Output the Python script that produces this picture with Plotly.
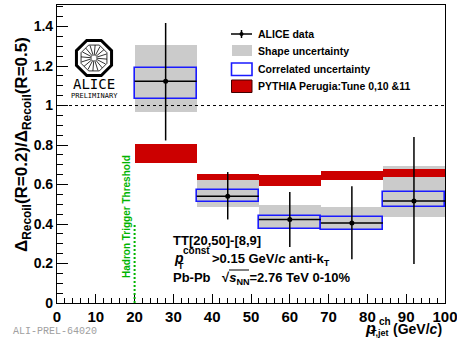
import math
import plotly.graph_objects as go

# ---------------- data ----------------
bin_centers = [28, 44, 60, 76, 92]
bin_width = 16
ratio = [1.123, 0.540, 0.423, 0.405, 0.517]
stat_hi = [1.418, 0.663, 0.562, 0.591, 0.840]
stat_lo = [0.823, 0.423, 0.284, 0.222, 0.197]
shape_hi = [1.308, 0.625, 0.495, 0.487, 0.692]
shape_lo = [0.966, 0.487, 0.377, 0.372, 0.433]
corr_hi = [1.190, 0.571, 0.441, 0.436, 0.562]
corr_lo = [1.032, 0.512, 0.377, 0.372, 0.484]
pythia_hi = [0.807, 0.655, 0.650, 0.668, 0.680]
pythia_lo = [0.709, 0.625, 0.593, 0.625, 0.638]

x_ticks = [0, 10, 20, 30, 40, 50, 60, 70, 80, 90, 100]
y_ticks = [0, 0.2, 0.4, 0.6, 0.8, 1.0, 1.2, 1.4]
y_tick_text = ["0", "0.2", "0.4", "0.6", "0.8", "1", "1.2", "1.4"]
trigger_threshold = 20
legend_labels = ["ALICE data", "Shape uncertainty", "Correlated uncertainty",
                 "PYTHIA Perugia:Tune 0,10 &11"]

W, H = 457, 338
L, R, T, B = 57, 445, 5, 303
FONT = "Liberation Sans, Arial, sans-serif"


def px(x):
    return (x - L) / (R - L)


def py(y):
    return (B - y) / (B - T)


RED = "#cc0000"
GRAY = "#cbcbcb"
BLUE = "#1a1aff"
GREEN = "#00b400"

fig = go.Figure()

# shape uncertainty (gray)
fig.add_trace(go.Bar(
    x=bin_centers, y=[h - l for h, l in zip(shape_hi, shape_lo)], base=shape_lo,
    width=bin_width, marker=dict(color=GRAY, line=dict(width=0)),
    showlegend=False, hoverinfo="skip"))
# pythia (red)
fig.add_trace(go.Bar(
    x=bin_centers, y=[h - l for h, l in zip(pythia_hi, pythia_lo)], base=pythia_lo,
    width=bin_width, marker=dict(color=RED, line=dict(width=0)),
    showlegend=False, hoverinfo="skip"))
# correlated uncertainty (blue open box)
fig.add_trace(go.Bar(
    x=bin_centers, y=[h - l for h, l in zip(corr_hi, corr_lo)], base=corr_lo,
    width=bin_width, marker=dict(color="rgba(0,0,0,0)", line=dict(width=1.6, color=BLUE)),
    showlegend=False, hoverinfo="skip"))
# data points with stat errors
fig.add_trace(go.Scatter(
    x=bin_centers, y=ratio, mode="markers",
    marker=dict(symbol="circle", size=5, color="black"),
    error_y=dict(type="data", symmetric=False,
                 array=[h - r for h, r in zip(stat_hi, ratio)],
                 arrayminus=[r - l for r, l in zip(ratio, stat_lo)],
                 color="black", thickness=1.5, width=0),
    error_x=dict(type="data", array=[bin_width / 2] * len(bin_centers),
                 color="black", thickness=1.5, width=0),
    showlegend=False, hoverinfo="skip"))

shapes = []
# dashed line at 1
shapes.append(dict(type="line", xref="x", yref="y", x0=0, x1=100, y0=1, y1=1,
                   line=dict(color="black", width=1, dash="3px,3px")))
# trigger threshold
shapes.append(dict(type="line", xref="x", yref="y", x0=trigger_threshold, x1=trigger_threshold,
                   y0=0, y1=0.405, line=dict(color=GREEN, width=2, dash="2px,2px")))

# legend symbols
ly = [34, 51, 69, 86]
shapes.append(dict(type="line", xref="paper", yref="paper", x0=px(231), x1=px(252),
                   y0=py(ly[0]), y1=py(ly[0]), line=dict(color="black", width=1.5)))
shapes.append(dict(type="line", xref="paper", yref="paper", x0=px(241.5), x1=px(241.5),
                   y0=py(ly[0] - 4), y1=py(ly[0] + 4), line=dict(color="black", width=1.5)))
shapes.append(dict(type="circle", xref="paper", yref="paper", x0=px(239.5), x1=px(243.5),
                   y0=py(ly[0] - 2), y1=py(ly[0] + 2), fillcolor="black",
                   line=dict(color="black", width=0)))
shapes.append(dict(type="rect", xref="paper", yref="paper", x0=px(232), x1=px(252),
                   y0=py(56), y1=py(45), fillcolor=GRAY, line=dict(width=0)))
shapes.append(dict(type="rect", xref="paper", yref="paper", x0=px(231.5), x1=px(252),
                   y0=py(75.5), y1=py(63), fillcolor="white", line=dict(color=BLUE, width=1.6)))
shapes.append(dict(type="rect", xref="paper", yref="paper", x0=px(231.5), x1=px(252),
                   y0=py(92.5), y1=py(80), fillcolor=RED, line=dict(color="#400000", width=1)))

# ALICE logo (octagon with rays)
cx, cy, rad = 94, 58, 19
pts = []
for k in range(8):
    a = math.radians(22.5 + 45 * k)
    pts.append((cx + rad * math.cos(a), cy + rad * math.sin(a)))
path = "M " + " L ".join(f"{px(a):.5f},{py(b):.5f}" for a, b in pts) + " Z"
shapes.append(dict(type="path", xref="paper", yref="paper", path=path,
                   line=dict(color="black", width=3), fillcolor="white"))
rad2 = 14
pts2 = []
for k in range(8):
    a = math.radians(22.5 + 45 * k)
    pts2.append((cx + rad2 * math.cos(a), cy + rad2 * math.sin(a)))
path2 = "M " + " L ".join(f"{px(a):.5f},{py(b):.5f}" for a, b in pts2) + " Z"
shapes.append(dict(type="path", xref="paper", yref="paper", path=path2,
                   line=dict(color="black", width=0.8)))
for k in range(16):
    a = math.radians(11.25 * 2 * k + 5)
    shapes.append(dict(type="line", xref="paper", yref="paper",
                       x0=px(cx + 2.5 * math.cos(a)), y0=py(cy + 2.5 * math.sin(a)),
                       x1=px(cx + 13 * math.cos(a)), y1=py(cy + 13 * math.sin(a)),
                       line=dict(color="black", width=0.8)))

# sqrt overline
shapes.append(dict(type="line", xref="paper", yref="paper", x0=px(229), x1=px(249),
                   y0=py(270), y1=py(270), line=dict(color="black", width=1)))

annotations = []


def ann(text, x, y, size, xanchor="left", yanchor="middle", color="black", bold=True,
        family=FONT, angle=0):
    annotations.append(dict(text=text, x=px(x), y=py(y), xref="paper", yref="paper",
                            xanchor=xanchor, yanchor=yanchor, showarrow=False,
                            textangle=angle,
                            font=dict(size=size, color=color, family=family,
                                      weight="bold" if bold else "normal")))


# legend text
for t, yy in zip(legend_labels, ly):
    ann(t, 256, yy, 10.5)

# y title
ann("Δ<sub>Recoil</sub>(R=0.2)/Δ<sub>Recoil</sub>(R=0.5)", 23, 145, 17,
    xanchor="center", angle=-90)

# x title
ann("<i>p</i>", 370, 328, 16, xanchor="center")
ann("ch", 377, 321, 10)
ann("T,jet", 369, 333, 9)
ann("(GeV/<i>c</i>)", 444, 329, 14, xanchor="right")

# info text
ann("TT[20,50]-[8,9]", 171, 240, 13)
ann("<i>p</i>", 172, 258, 14)
ann("const", 181, 250, 10)
ann("T", 176, 266, 9)
ann(">0.15 GeV/<i>c</i> anti-k<sub>T</sub>", 210, 259, 13)
ann("Pb-Pb", 171, 277, 13)
ann("√<i>s</i><sub>NN</sub>=2.76 TeV 0-10%", 220, 278, 13)

# hadron trigger threshold
ann("Hadron Trigger Threshold", 126, 217, 10, xanchor="center", color=GREEN, angle=-90)

# logo text
ann("ALICE", 94, 84, 14, xanchor="center", bold=False, family="DejaVu Sans Mono, monospace")
ann("PRELIMINARY", 94, 96, 7, xanchor="center", bold=False, family="DejaVu Sans Mono, monospace")

# figure id
ann("ALI-PREL-64020", 11, 331, 10, color="#a0a0a0", bold=False,
    family="Liberation Mono, Courier New, monospace")

fig.update_layout(
    width=W, height=H,
    margin=dict(l=L, r=W - R, t=T, b=H - B, pad=0, autoexpand=False),
    paper_bgcolor="white", plot_bgcolor="white",
    barmode="overlay", bargap=0,
    shapes=shapes, annotations=annotations,
    showlegend=False,
    xaxis=dict(range=[0, 100], tickvals=x_ticks, ticks="inside", ticklen=9,
               tickcolor="black", tickwidth=1, showgrid=False, zeroline=False,
               showline=True, mirror=True, linecolor="black", linewidth=1.2,
               ticklabeloverflow="allow", automargin=False,
               tickfont=dict(family=FONT, size=15, color="black", weight="bold"),
               minor=dict(dtick=2, ticks="inside", ticklen=5, tickcolor="black",
                          tickwidth=1, showgrid=False)),
    yaxis=dict(range=[0, 1.509], tickvals=y_ticks, ticktext=y_tick_text, ticks="inside",
               ticklen=11, tickcolor="black", tickwidth=1, showgrid=False, zeroline=False,
               showline=True, mirror=True, linecolor="black", linewidth=1.2,
               ticklabeloverflow="allow", automargin=False,
               tickfont=dict(family=FONT, size=14, color="black", weight="bold"),
               minor=dict(dtick=0.05, ticks="inside", ticklen=6, tickcolor="black",
                          tickwidth=1, showgrid=False)),
)

fig.write_html("out.html")
